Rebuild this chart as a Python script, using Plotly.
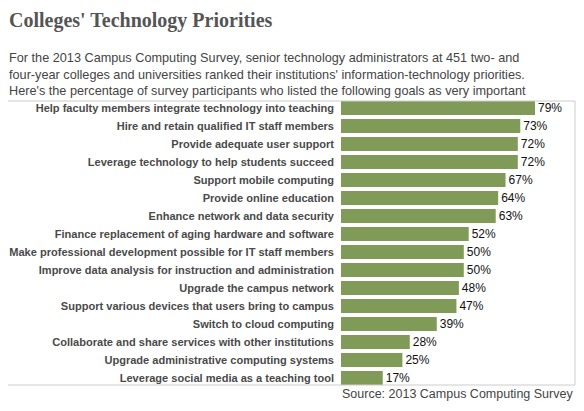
import plotly.graph_objects as go

categories = [
    "Help faculty members integrate technology into teaching",
    "Hire and retain qualified IT staff members",
    "Provide adequate user support",
    "Leverage technology to help students succeed",
    "Support mobile computing",
    "Provide online education",
    "Enhance network and data security",
    "Finance replacement of aging hardware and software",
    "Make professional development possible for IT staff members",
    "Improve data analysis for instruction and administration",
    "Upgrade the campus network",
    "Support various devices that users bring to campus",
    "Switch to cloud computing",
    "Collaborate and share services with other institutions",
    "Upgrade administrative computing systems",
    "Leverage social media as a teaching tool",
]
values = [79, 73, 72, 72, 67, 64, 63, 52, 50, 50, 48, 47, 39, 28, 25, 17]
value_labels = [f"{v}%" for v in values]

title = "Colleges' Technology Priorities"
subtitle_lines = [
    "For the 2013 Campus Computing Survey, senior technology administrators at 451 two- and",
    "four-year colleges and universities ranked their institutions' information-technology priorities.",
    "Here's the percentage of survey participants who listed the following goals as very important",
]
source = "Source: 2013 Campus Computing Survey"

# page has an 8px body margin, so the figure is offset by 8px
OFF = 8
W, H = 584 - OFF, 411 - OFF
L, R, T, B = 341 - OFF, 575 - OFF, 101 - OFF, 385 - OFF


def px_x(x):
    return (x - OFF - L) / (R - L)


def px_y(y):
    return (B - (y - OFF)) / (B - T)


fig = go.Figure(go.Bar(
    x=values, y=categories, orientation="h",
    marker=dict(color="#7f9b57", line=dict(width=0)),
    text=value_labels, textposition="outside", cliponaxis=False,
    textfont=dict(family="Arial, 'Liberation Sans', sans-serif", size=12, color="#111"),
    width=14 / 18,
))

n = len(categories)
half = (14 / 18) / 2
fig.update_layout(
    width=W, height=H,
    margin=dict(l=L, r=W - R, t=T, b=H - B, pad=0, autoexpand=False),
    paper_bgcolor="white", plot_bgcolor="white",
    showlegend=False,
    xaxis=dict(range=[0, 79 * (R - L) / 194], visible=False, fixedrange=True, automargin=False),
    yaxis=dict(
        type="category", categoryorder="array", categoryarray=categories,
        range=[n - 1 + half, -half], automargin=False,
        showgrid=False, zeroline=False, showline=False, ticks="",
        ticklabelstandoff=6, fixedrange=True,
        tickfont=dict(family="Arial, 'Liberation Sans', sans-serif", size=11.05, color="#4a4a4a", weight="bold"),
    ),
    shapes=[
        dict(type="line", xref="paper", yref="paper", x0=px_x(8), x1=1, y0=1, y1=1,
             line=dict(color="#cccccc", width=1)),
        dict(type="line", xref="paper", yref="paper", x0=px_x(8), x1=1, y0=0, y1=0,
             line=dict(color="#cccccc", width=1)),
        dict(type="line", xref="paper", yref="paper", x0=1, x1=1, y0=0, y1=1,
             line=dict(color="#cccccc", width=1)),
    ],
    annotations=[
        dict(text=f"<b>{title}</b>", xref="paper", yref="paper",
             x=px_x(7), xanchor="left", y=px_y(21), yanchor="middle",
             showarrow=False,
             font=dict(family="Georgia, 'Liberation Serif', serif", size=20, color="#555555")),
        dict(text="<br>".join(subtitle_lines), xref="paper", yref="paper",
             x=px_x(7), xanchor="left", y=px_y(75), yanchor="middle",
             align="left", showarrow=False,
             font=dict(family="Arial, 'Liberation Sans', sans-serif", size=12.7, color="#444444")),
        dict(text=source, xref="paper", yref="paper",
             x=1, xanchor="right", y=px_y(394), yanchor="middle",
             showarrow=False,
             font=dict(family="Arial, 'Liberation Sans', sans-serif", size=12.5, color="#444444")),
    ],
)

fig.write_html("out.html")
